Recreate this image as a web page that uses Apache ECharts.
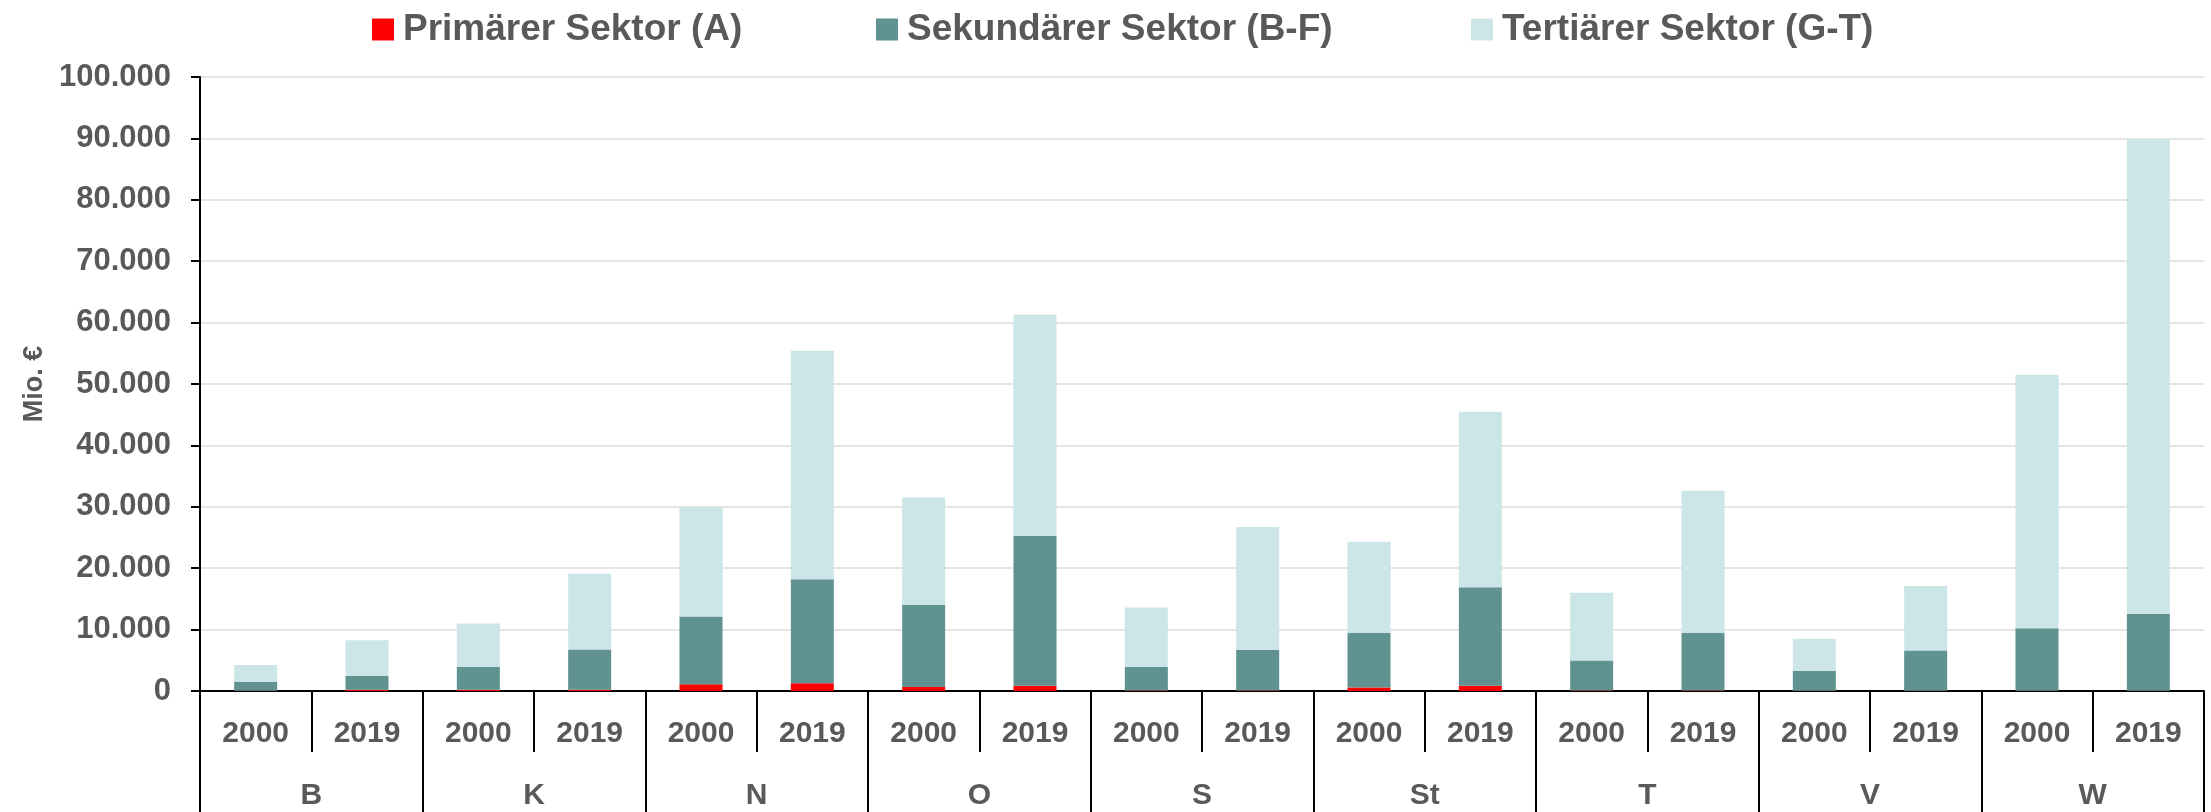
<!DOCTYPE html>
<html>
<head>
<meta charset="utf-8">
<script src="https://cdn.jsdelivr.net/npm/echarts@6/dist/echarts.min.js"></script>
<style>
  html, body { margin: 0; padding: 0; background: #fff; }
  #chart { width: 2211px; height: 812px; }
</style>
</head>
<body>
<div id="chart"></div>
<script>
// Kategorien
var groups = ['B', 'K', 'N', 'O', 'S', 'St', 'T', 'V', 'W'];
var years = ['2000', '2019'];
var yearLabels = [];
groups.forEach(function () { yearLabels.push(years[0], years[1]); });

// Werte in Mio. €
var primaer   = [50, 200, 200, 200, 1090, 1250, 650, 870, 80, 80, 550, 870, 100, 100, 60, 60, 40, 40];
var sekundaer = [1420, 2300, 3700, 6550, 11060, 16950, 13350, 24430, 3820, 6620, 8950, 16030, 4860, 9400, 3240, 6540, 10160, 12560];
var tertiaer  = [2780, 5780, 7100, 12350, 17850, 37200, 17500, 36000, 9700, 20000, 14800, 28600, 11040, 23100, 5200, 10500, 41300, 77300];

var seriesNames = ['Primärer Sektor (A)', 'Sekundärer Sektor (B-F)', 'Tertiärer Sektor (G-T)'];
var colors = ['#FF0000', '#5F9290', '#CCE5E7'];

var txt = '#595959';
var font = 'Liberation Sans';

function fmt(v) {
    return String(v).replace(/\B(?=(\d{3})+(?!\d))/g, '.');
}

var chart = echarts.init(document.getElementById('chart'));

var legendLeft = [367, 871, 1466];
var legends = seriesNames.map(function (n, i) {
    return {
        data: [n],
        left: legendLeft[i],
        top: 6,
        itemWidth: 22,
        itemHeight: 22,
        itemGap: 0,
        icon: 'rect',
        textStyle: { color: txt, fontSize: 37, fontWeight: 'bold', fontFamily: font, padding: [0, 0, 0, 4] }
    };
});

var option = {
    animation: false,
    color: colors,
    legend: legends,
    grid: { left: 200, right: 7, top: 77, bottom: 121, outerBoundsMode: 'none' },
    xAxis: [
        {
            type: 'category',
            data: yearLabels,
            position: 'bottom',
            axisLine: { show: true, lineStyle: { color: '#000', width: 2 } },
            axisTick: { show: true, interval: 0, length: 61, lineStyle: { color: '#000', width: 2 } },
            axisLabel: { interval: 0, margin: 28, color: txt, fontSize: 30, fontWeight: 'bold', fontFamily: font }
        },
        {
            type: 'category',
            data: groups,
            position: 'bottom',
            axisLine: { show: false },
            axisTick: { show: true, interval: 0, length: 125, lineStyle: { color: '#000', width: 2 } },
            axisLabel: { interval: 0, margin: 90, color: txt, fontSize: 30, fontWeight: 'bold', fontFamily: font }
        }
    ],
    yAxis: {
        type: 'value',
        min: 0,
        max: 100000,
        interval: 10000,
        name: 'Mio. €',
        nameLocation: 'middle',
        nameGap: 152,
        nameTextStyle: { color: txt, fontSize: 27, fontWeight: 'bold', fontFamily: font },
        axisLine: { show: true, lineStyle: { color: '#000', width: 2 } },
        axisTick: { show: true, length: 9, lineStyle: { color: '#000', width: 2 } },
        axisLabel: { margin: 29, color: txt, fontSize: 31, fontWeight: 'bold', fontFamily: font, formatter: fmt },
        splitLine: { show: true, lineStyle: { color: '#DDDDDD', width: 1.5 } }
    },
    series: [
        { name: seriesNames[0], type: 'bar', stack: 'gesamt', barWidth: 43, data: primaer },
        { name: seriesNames[1], type: 'bar', stack: 'gesamt', barWidth: 43, data: sekundaer },
        { name: seriesNames[2], type: 'bar', stack: 'gesamt', barWidth: 43, data: tertiaer }
    ]
};

chart.setOption(option);
</script>
</body>
</html>
